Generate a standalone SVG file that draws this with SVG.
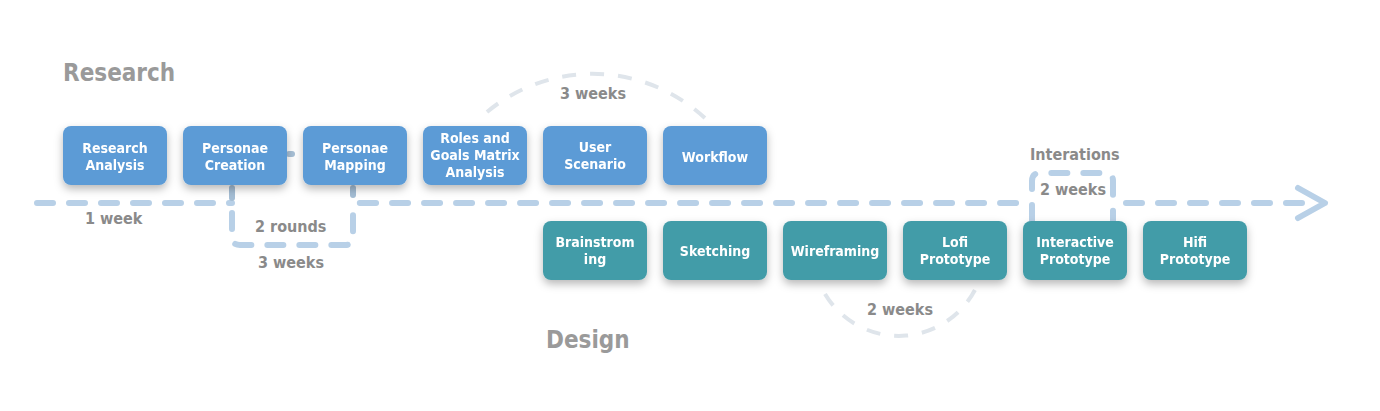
<svg xmlns="http://www.w3.org/2000/svg" width="1380" height="411" viewBox="0 0 1380 411">
<style>
.node rect{rx:8;ry:8}
.top rect{fill:#5b9bd6}
.bot rect{fill:#439ca8}
.node text{font-family:"DejaVu Sans Condensed","DejaVu Sans",sans-serif;font-weight:bold;font-size:14px;fill:#fff;text-anchor:middle}
.lbl{font-family:"DejaVu Sans Condensed","DejaVu Sans",sans-serif;font-weight:bold;font-size:16px;fill:#8a8a8a}
.title{font-family:"DejaVu Sans Condensed","DejaVu Sans",sans-serif;font-weight:bold;font-size:24px;fill:#9a9a9a}
.main{fill:none;stroke:#b8d0e7;stroke-width:6;stroke-linecap:round;stroke-linejoin:round;stroke-dasharray:16 16}
.arc{fill:none;stroke:#dfe5eb;stroke-width:4;stroke-dasharray:14 14}
</style>
<defs>
<filter id="sh" x="-20%" y="-20%" width="140%" height="160%">
<feDropShadow dx="0" dy="4" stdDeviation="4" flood-color="#000" flood-opacity="0.28"/>
</filter>
</defs>
<rect width="1380" height="411" fill="#fff"/>
<text class="title" x="63" y="81">Research</text>
<text class="title" x="546" y="348">Design</text>
<g id="connectors">
<path class="arc" d="M487,112 A165,165 0 0 1 710,123"/>
<path class="arc" d="M825,294 A86,86 0 0 0 979,281"/>
<path class="main" d="M37,203 H232"/>
<path class="main" style="stroke:#a4bdd4;stroke-dasharray:none" d="M232,188 V198"/>
<path class="main" d="M232,213 V237 Q232,245 240,245 H345 Q353,245 353,237 V211 Q353,203 361,203 H1032"/>
<path class="main" style="stroke:#a4bdd4;stroke-dasharray:none" d="M353,188 V195"/>
<path class="main" style="stroke:#a8c0d6;stroke-dasharray:none" d="M289,154 H292"/>
<path class="main" d="M1032,221 V181 Q1032,173 1040,173 H1105 Q1113,173 1113,181 V221"/>
<path class="main" d="M1126,203 H1312"/>
<polyline points="1298,188 1325,203 1298,218" fill="none" stroke="#b8d0e7" stroke-width="6" stroke-linecap="round" stroke-linejoin="round"/>
</g>
<g id="n-research-analysis" class="node top" filter="url(#sh)"><rect x="63" y="126" width="104" height="59"/><text x="115" y="153">Research</text><text x="115" y="170">Analysis</text></g>
<g id="n-personae-creation" class="node top" filter="url(#sh)"><rect x="183" y="126" width="104" height="59"/><text x="235" y="153">Personae</text><text x="235" y="170">Creation</text></g>
<g id="n-personae-mapping" class="node top" filter="url(#sh)"><rect x="303" y="126" width="104" height="59"/><text x="355" y="153">Personae</text><text x="355" y="170">Mapping</text></g>
<g id="n-roles" class="node top" filter="url(#sh)"><rect x="423" y="126" width="104" height="59"/><text x="475" y="143">Roles and</text><text x="475" y="160">Goals Matrix</text><text x="475" y="177">Analysis</text></g>
<g id="n-user-scenario" class="node top" filter="url(#sh)"><rect x="543" y="126" width="104" height="59"/><text x="595" y="152">User</text><text x="595" y="169">Scenario</text></g>
<g id="n-workflow" class="node top" filter="url(#sh)"><rect x="663" y="126" width="104" height="59"/><text x="715" y="162">Workflow</text></g>
<g id="n-brainstroming" class="node bot" filter="url(#sh)"><rect x="543" y="221" width="104" height="59"/><text x="595" y="247">Brainstrom</text><text x="595" y="264">ing</text></g>
<g id="n-sketching" class="node bot" filter="url(#sh)"><rect x="663" y="221" width="104" height="59"/><text x="715" y="256">Sketching</text></g>
<g id="n-wireframing" class="node bot" filter="url(#sh)"><rect x="783" y="221" width="104" height="59"/><text x="835" y="256">Wireframing</text></g>
<g id="n-lofi" class="node bot" filter="url(#sh)"><rect x="903" y="221" width="104" height="59"/><text x="955" y="247">Lofi</text><text x="955" y="264">Prototype</text></g>
<g id="n-interactive" class="node bot" filter="url(#sh)"><rect x="1023" y="221" width="104" height="59"/><text x="1075" y="247">Interactive</text><text x="1075" y="264">Prototype</text></g>
<g id="n-hifi" class="node bot" filter="url(#sh)"><rect x="1143" y="221" width="104" height="59"/><text x="1195" y="247">Hifi</text><text x="1195" y="264">Prototype</text></g>
<g id="labels">
<text class="lbl" x="85" y="224">1 week</text>
<text class="lbl" x="255" y="232">2 rounds</text>
<text class="lbl" x="258" y="268">3 weeks</text>
<text class="lbl" x="560" y="99">3 weeks</text>
<text class="lbl" x="867" y="315">2 weeks</text>
<text class="lbl" x="1030" y="160">Interations</text>
<text class="lbl" x="1040" y="195">2 weeks</text>
</g>
</svg>
